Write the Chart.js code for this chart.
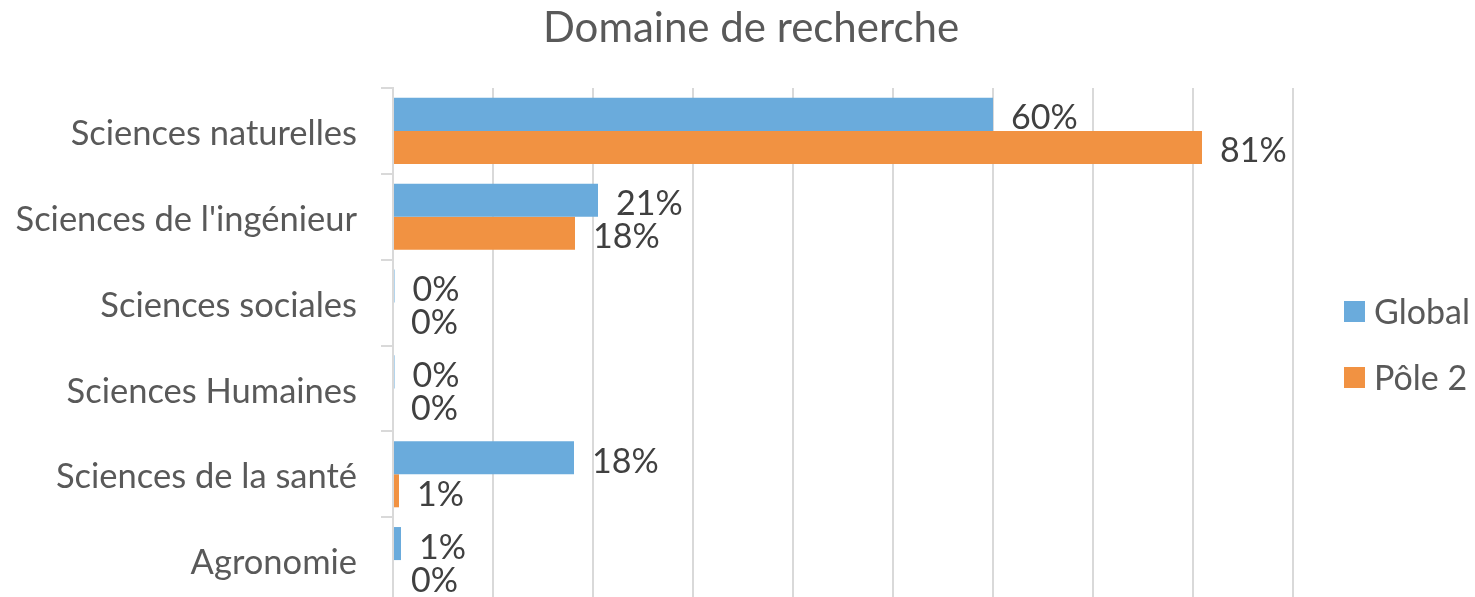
<!DOCTYPE html>
<html>
<head>
<meta charset="utf-8">
<script src="https://cdn.jsdelivr.net/npm/chart.js@4.4.0/dist/chart.umd.min.js"></script>
<style>
  html, body { margin: 0; padding: 0; background: #fff; overflow: hidden; }
</style>
</head>
<body>
<canvas id="chartDomaine" width="1475" height="603"></canvas>
<script>
// donnees (en %)
const titre = 'Domaine de recherche';
const domaines = ['Sciences naturelles', "Sciences de l'ingénieur", 'Sciences sociales',
                  'Sciences Humaines', 'Sciences de la santé', 'Agronomie'];
const series = ['Global', 'Pôle 2'];
const valGlobal = [60, 20.5, 0.15, 0.15, 18.1, 0.8];
const valPole2 = [80.9, 18.2, 0, 0, 0.6, 0];
const couleurs = ['#6aabdc', '#f19242'];

const police = 'Lato, Carlito, Calibri, sans-serif';

// etiquettes de valeur au bout des barres
const etiquettes = {
    id: 'etiquettes',
    afterDatasetsDraw(chart) {
        const ctx = chart.ctx;
        ctx.save();
        ctx.font = '34px ' + police;
        ctx.fillStyle = '#404040';
        ctx.textAlign = 'left';
        ctx.textBaseline = 'middle';
        chart.data.datasets.forEach((ds, i) => {
            chart.getDatasetMeta(i).data.forEach((bar, j) => {
                ctx.fillText(Math.round(ds.data[j]) + '%', bar.x + 18, bar.y + 4);
            });
        });
        ctx.restore();
    }
};

// titre et legende dessines a la main pour garder la position d'Excel
const titreLegende = {
    id: 'titreLegende',
    afterDraw(chart) {
        const ctx = chart.ctx;
        const area = chart.chartArea;
        ctx.save();
        ctx.fillStyle = '#595959';
        ctx.font = '42px ' + police;
        ctx.textAlign = 'center';
        ctx.textBaseline = 'middle';
        ctx.fillText(titre, 751, 28);

        const milieu = (area.top + area.bottom) / 2 - 1;
        ctx.font = '34px ' + police;
        ctx.textAlign = 'left';
        chart.data.datasets.forEach((ds, i) => {
            const y = milieu + (i - 0.5) * 66;
            ctx.fillStyle = ds.backgroundColor;
            ctx.fillRect(area.right + 51, y - 10.5, 21, 21);
            ctx.fillStyle = '#595959';
            ctx.fillText(ds.label, area.right + 81, y + 2);
        });
        ctx.restore();
    }
};

new Chart(document.getElementById('chartDomaine'), {
    type: 'bar',
    data: {
        labels: domaines,
        datasets: [{
            label: series[0],
            data: valGlobal,
            backgroundColor: couleurs[0],
            categoryPercentage: 0.77,
            barPercentage: 1.0
        }, {
            label: series[1],
            data: valPole2,
            backgroundColor: couleurs[1],
            categoryPercentage: 0.77,
            barPercentage: 1.0
        }]
    },
    options: {
        indexAxis: 'y',
        responsive: false,
        animation: false,
        layout: {
            padding: { top: 88, right: 182, left: 0, bottom: 0 }
        },
        plugins: {
            legend: { display: false },
            title: { display: false },
            tooltip: { enabled: false }
        },
        scales: {
            x: {
                min: 0,
                max: 90,
                ticks: { display: false, stepSize: 10 },
                border: { display: false },
                grid: { color: '#d9d9d9', lineWidth: 2, drawTicks: false },
                afterFit: s => { s.height = 0; s.paddingLeft = 0; s.paddingRight = 0; }
            },
            y: {
                ticks: {
                    color: '#595959',
                    font: { family: police, size: 34.5 },
                    padding: 24,
                    labelOffset: 3
                },
                border: { display: true, color: '#d9d9d9', width: 2 },
                grid: {
                    drawOnChartArea: false,
                    drawTicks: true,
                    tickLength: 12,
                    color: '#d9d9d9',
                    lineWidth: 2
                },
                afterFit: s => { s.width = 393; s.paddingTop = 0; s.paddingBottom = 0; }
            }
        }
    },
    plugins: [etiquettes, titreLegende]
});
</script>
</body>
</html>
